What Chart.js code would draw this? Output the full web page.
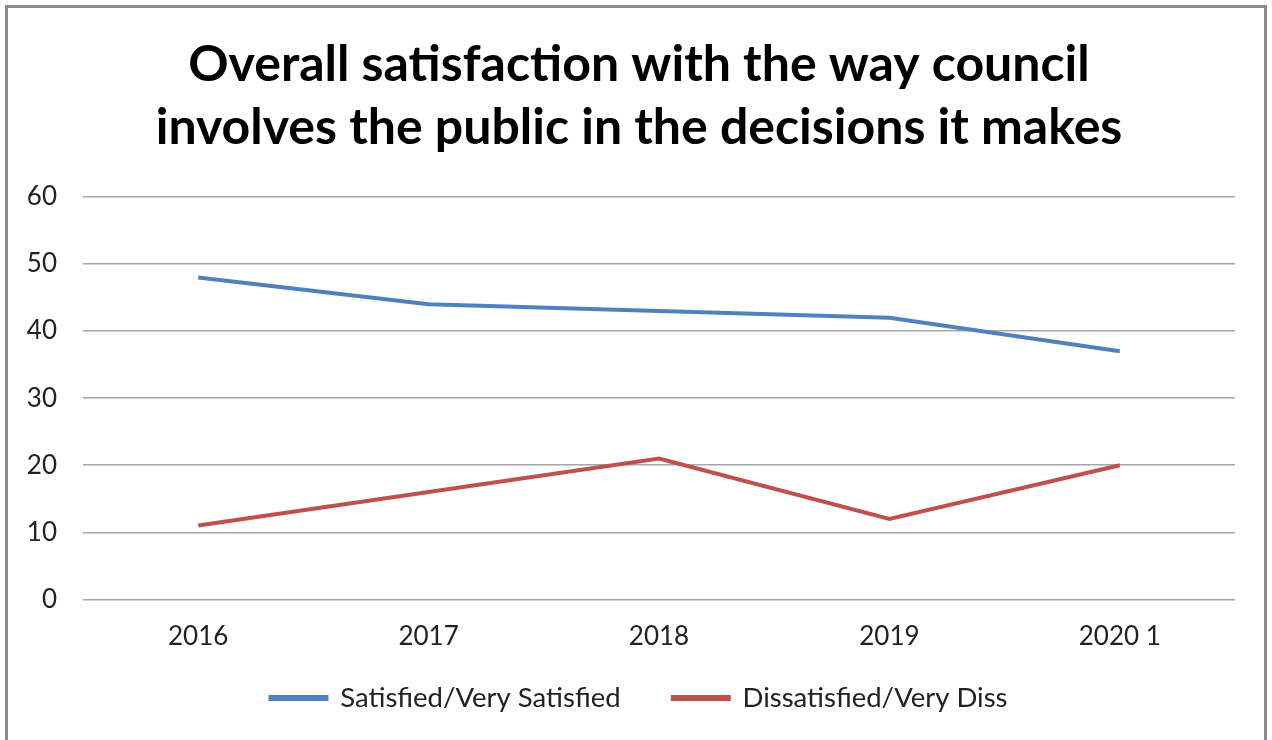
<!DOCTYPE html>
<html>
<head>
<meta charset="utf-8">
<script src="https://cdn.jsdelivr.net/npm/chart.js@4"></script>
<style>
  html, body { margin: 0; padding: 0; background: #fff; }
  #wrap { position: relative; width: 1272px; height: 740px; overflow: hidden; }
  #frame { position: absolute; left: 5px; top: 5px; width: 1262px; height: 760px; border: 3px solid #8c8c8c; box-sizing: border-box; pointer-events: none; }
  canvas { position: absolute; left: 0; top: 0; }
</style>
</head>
<body>
<div id="wrap">
  <canvas id="c" width="1272" height="740"></canvas>
  <div id="frame"></div>
</div>
<script>
const titleLines = ["Overall satisfaction with the way council", "involves the public in the decisions it makes"];
const categories = ["2016", "2017", "2018", "2019", "2020 1"];
const satisfied = [48, 44, 43, 42, 37];
const dissatisfied = [11, 16, 21, 12, 20];
const seriesNames = ["Satisfied/Very Satisfied", "Dissatisfied/Very Diss"];
const yMin = 0, yMax = 60, yStep = 10;

const FONT = "Lato, 'Open Sans', sans-serif";

// Move the legend up so it sits close under the category labels
const legendShift = {
  id: 'legendShift',
  afterLayout(chart) {
    const lg = chart.legend;
    if (lg) { lg.top -= 42.5; lg.bottom -= 42.5; }
  }
};

new Chart(document.getElementById('c'), {
  type: 'line',
  data: {
    labels: categories,
    datasets: [
      { label: seriesNames[0], data: satisfied, borderColor: '#4F81BD', backgroundColor: '#4F81BD', borderWidth: 4, pointRadius: 0, tension: 0 },
      { label: seriesNames[1], data: dissatisfied, borderColor: '#C0504D', backgroundColor: '#C0504D', borderWidth: 4, pointRadius: 0, tension: 0 }
    ]
  },
  plugins: [legendShift],
  options: {
    responsive: false,
    animation: false,
    devicePixelRatio: 1,
    layout: { padding: { left: 27, right: 21, top: 8, bottom: -24.25 } },
    plugins: {
      title: {
        display: true,
        text: titleLines,
        color: '#000',
        font: { family: FONT, size: 50, weight: 'bold', lineHeight: 1.26 },
        padding: { top: 25, bottom: 38 }
      },
      legend: {
        position: 'bottom',
        labels: {
          color: '#222',
          font: { family: FONT, size: 27.5 },
          boxWidth: 56,
          boxHeight: 2,
          padding: 52.25
        }
      },
      tooltip: { enabled: false }
    },
    scales: {
      x: {
        offset: true,
        grid: { display: false, drawTicks: false },
        border: { display: false },
        ticks: { color: '#222', font: { family: FONT, size: 26 }, padding: 22 }
      },
      y: {
        min: yMin, max: yMax,
        grid: { color: '#a6a6a6', lineWidth: 1.5, drawTicks: false },
        border: { display: false },
        ticks: { stepSize: yStep, color: '#222', font: { family: FONT, size: 26 }, padding: 26 },
        afterFit: (s) => { s.width = 56; }
      },
      yRightSpace: {
        position: 'right',
        display: true,
        grid: { display: false, drawTicks: false },
        border: { display: false },
        ticks: { display: false },
        afterFit: (s) => { s.width = 16; }
      }
    }
  }
});
</script>
</body>
</html>
